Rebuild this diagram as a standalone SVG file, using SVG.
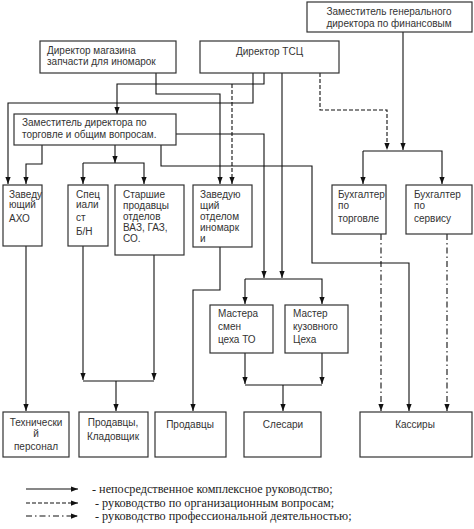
<svg xmlns="http://www.w3.org/2000/svg" width="474" height="529" viewBox="0 0 474 529">
<defs>
<marker id="a" viewBox="0 0 8 6" refX="8" refY="3" markerWidth="7" markerHeight="6" orient="auto" markerUnits="userSpaceOnUse"><path d="M0,0 L8,3 L0,6 z" fill="#111"/></marker>
<style>
.b{fill:#fff;stroke:#333;stroke-width:1.2}
.t{font-family:"Liberation Sans",Arial,sans-serif;font-size:10px;fill:#333}
.c{text-anchor:middle}
.l{fill:none;stroke:#111;stroke-width:1.1}
.d{stroke-dasharray:4,2}
.dd{stroke-dasharray:6,3,1.5,3}
.ar{marker-end:url(#a)}
.lg{font-family:"Liberation Serif","Times New Roman",serif;font-size:12.2px;fill:#222}
</style>
</defs>
<rect width="474" height="529" fill="#fff"/>

<g id="connectors">
<path class="l ar" d="M264,73 V84 H117 V114"/>
<path class="l ar" d="M253,73 V103 H8 V184"/>
<path class="l ar" d="M156,73 V94 H220 V184"/>
<path class="l d ar" d="M232,84 V184"/>
<path class="l ar" d="M42,145 V164 H26 V184"/>
<path class="l ar" d="M115,145 V163"/>
<path class="l ar" d="M83,163 H144 V184"/>
<path class="l ar" d="M83,163 V184"/>
<path class="l ar" d="M161,145 V166 H312 V263 H409 V411"/>
<path class="l ar" d="M176,134 H264 V278"/>
<path class="l ar" d="M282,73 V278"/>
<path class="l ar" d="M245,279 H322 V304"/>
<path class="l ar" d="M245,279 V304"/>
<path class="l d ar" d="M320,73 V110 H387 V150"/>
<path class="l ar" d="M403,32 V150"/>
<path class="l ar" d="M363,151 H442 V184"/>
<path class="l ar" d="M363,151 V184"/>
<path class="l ar" d="M26,246 V411"/>
<path class="l ar" d="M83,246 V380"/>
<path class="l ar" d="M154,255 V380"/>
<path class="l" d="M83,381 H154"/>
<path class="l ar" d="M116,381 V411"/>
<path class="l ar" d="M220,247 V290 H193 V411"/>
<path class="l ar" d="M245,353 V384"/>
<path class="l ar" d="M322,353 V384"/>
<path class="l" d="M245,385 H322"/>
<path class="l ar" d="M283,385 V411"/>
<path class="l dd ar" d="M381,234 V411"/>
<path class="l dd ar" d="M447,234 V411"/>
</g>

<g id="zam-gen">
<rect class="b" x="307" y="2" width="165" height="30"/>
<text class="t c" x="389" y="15">Заместитель генерального</text>
<text class="t c" x="389" y="27">директора по финансовым</text>
</g>
<g id="dir-magazin">
<rect class="b" x="40" y="41" width="136" height="32"/>
<text class="t" x="47" y="54">Директор магазина</text>
<text class="t" x="47" y="65">запчасти для иномарок</text>
</g>
<g id="dir-tsc">
<rect class="b" x="200" y="41" width="139" height="32"/>
<text class="t" x="236" y="55">Директор ТСЦ</text>
</g>
<g id="zam-dir">
<rect class="b" x="14" y="114" width="162" height="31"/>
<text class="t" x="22" y="126">Заместитель директора по</text>
<text class="t" x="22" y="138">торговле и общим вопросам.</text>
</g>
<g id="axo">
<rect class="b" x="3" y="185" width="39" height="61"/>
<text class="t" x="9" y="198">Заведу</text>
<text class="t" x="9" y="208">ющий</text>
<text class="t" x="9" y="222">АХО</text>
</g>
<g id="specialist">
<rect class="b" x="68" y="185" width="40" height="61"/>
<text class="t" x="76" y="198">Спец</text>
<text class="t" x="76" y="208">иали</text>
<text class="t" x="76" y="221">ст</text>
<text class="t" x="76" y="235">Б/Н</text>
</g>
<g id="starshie">
<rect class="b" x="115" y="185" width="69" height="70"/>
<text class="t" x="123" y="198">Старшие</text>
<text class="t" x="123" y="209">продавцы</text>
<text class="t" x="123" y="220">отделов</text>
<text class="t" x="123" y="231">ВАЗ, ГАЗ,</text>
<text class="t" x="123" y="242">СО.</text>
</g>
<g id="zav-inomarki">
<rect class="b" x="193" y="185" width="59" height="62"/>
<text class="t" x="200" y="198">Заведую</text>
<text class="t" x="200" y="209">щий</text>
<text class="t" x="200" y="220">отделом</text>
<text class="t" x="200" y="231">иномарк</text>
<text class="t" x="200" y="242">и</text>
</g>
<g id="buh-torg">
<rect class="b" x="332" y="185" width="54" height="49"/>
<text class="t" x="338" y="198">Бухгалтер</text>
<text class="t" x="338" y="209">по</text>
<text class="t" x="338" y="222">торговле</text>
</g>
<g id="buh-serv">
<rect class="b" x="406" y="185" width="66" height="49"/>
<text class="t" x="414" y="198">Бухгалтер</text>
<text class="t" x="414" y="209">по</text>
<text class="t" x="414" y="222">сервису</text>
</g>
<g id="mastera-smen">
<rect class="b" x="210" y="305" width="63" height="48"/>
<text class="t" x="218" y="317">Мастера</text>
<text class="t" x="218" y="330">смен</text>
<text class="t" x="218" y="343">цеха ТО</text>
</g>
<g id="master-kuzov">
<rect class="b" x="285" y="305" width="63" height="48"/>
<text class="t" x="293" y="317">Мастер</text>
<text class="t" x="293" y="330">кузовного</text>
<text class="t" x="293" y="343">Цеха</text>
</g>
<g id="tech">
<rect class="b" x="3" y="412" width="66" height="45"/>
<text class="t c" x="36" y="426">Технически</text>
<text class="t c" x="36" y="437">й</text>
<text class="t c" x="36" y="450">персонал</text>
</g>
<g id="prodavcy-klad">
<rect class="b" x="79" y="412" width="69" height="45"/>
<text class="t c" x="113" y="426">Продавцы,</text>
<text class="t c" x="113" y="440">Кладовщик</text>
</g>
<g id="prodavcy">
<rect class="b" x="155" y="412" width="71" height="45"/>
<text class="t c" x="190" y="428">Продавцы</text>
</g>
<g id="slesari">
<rect class="b" x="244" y="412" width="77" height="45"/>
<text class="t c" x="283" y="428">Слесари</text>
</g>
<g id="kassiry">
<rect class="b" x="360" y="412" width="112" height="45"/>
<text class="t c" x="415" y="428">Кассиры</text>
</g>

<g id="legend">
<path class="l ar" d="M26,489 H78"/>
<path class="l d ar" d="M26,503 H78"/>
<path class="l dd ar" d="M26,516 H78"/>
<text class="lg" x="92" y="493">- непосредственное комплексное  руководство;</text>
<text class="lg" x="95" y="507">- руководство по организационным вопросам;</text>
<text class="lg" x="95" y="520">- руководство профессиональной деятельностью;</text>
</g>
</svg>
